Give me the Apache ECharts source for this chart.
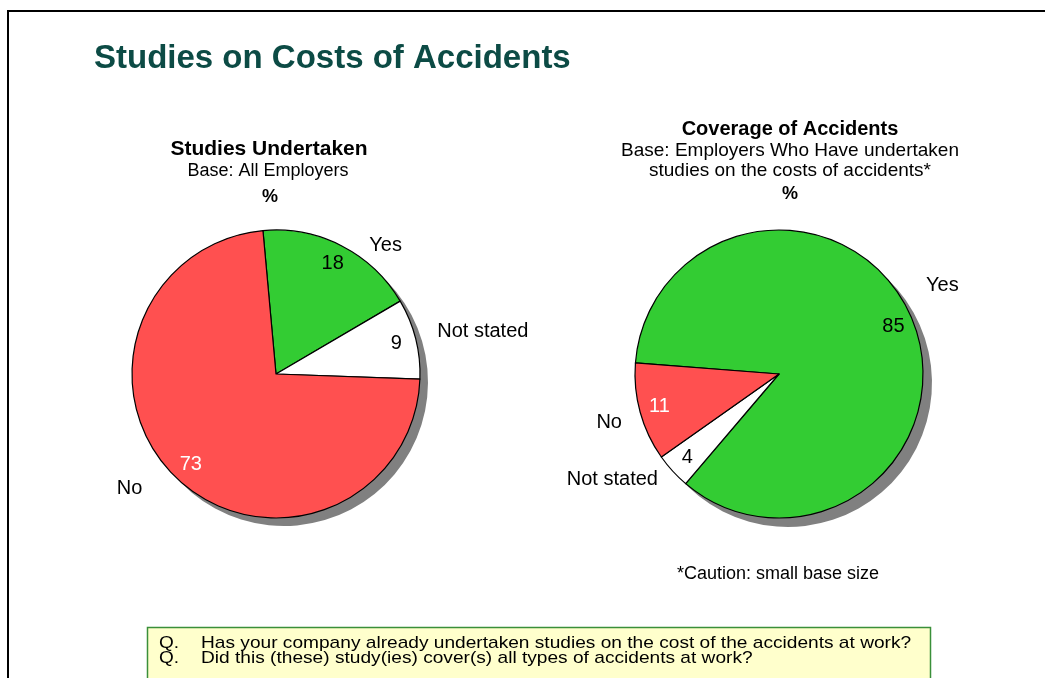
<!DOCTYPE html>
<html>
<head>
<meta charset="utf-8">
<title>Studies on Costs of Accidents</title>
<script src="https://cdn.jsdelivr.net/npm/echarts@6/dist/echarts.min.js"></script>
<style>
  html, body { margin: 0; padding: 0; background: #ffffff; }
  #chart { width: 1045px; height: 678px; }
</style>
</head>
<body>
<div id="chart"></div>
<script>
// Survey answers, in percent
const studyNames = ['Yes', 'Not stated', 'No'];
const studyValues = [18, 9, 73];

const coverageNames = ['Yes', 'Not stated', 'No'];
const coverageValues = [85, 4, 11];

const questions = [
  'Has your company already undertaken studies on the cost of the accidents at work?',
  'Did this (these) study(ies) cover(s) all types of accidents at work?'
];

const FONT = '"Liberation Sans", Arial, Helvetica, sans-serif';
const sliceColors = { 'Yes': '#33cc33', 'Not stated': '#ffffff', 'No': '#ff5050' };
const valueColors = { 'Yes': '#000000', 'Not stated': '#000000', 'No': '#ffffff' };

// label leader lengths (hidden lines) used to place the category names
const leftLeader = { 'Yes': [1, 22], 'Not stated': [28, -10.5], 'No': [13.5, 20.4] };
const rightLeader = { 'Yes': [86.5, -70.7], 'Not stated': [12.5, 0.5], 'No': [38.3, -23.7] };

const R = 144;

function sum(arr) { return arr.reduce((a, b) => a + b, 0); }

function pieSeries(names, values, center, startAngle, leader, shadowOffset) {
  const shadow = {
    type: 'pie',
    silent: true,
    z: 1,
    center: [center[0] + shadowOffset[0], center[1] + shadowOffset[1]],
    radius: R,
    startAngle: startAngle,
    label: { show: false },
    labelLine: { show: false },
    itemStyle: { color: '#808080', borderWidth: 0 },
    data: [{ name: 'shadow', value: sum(values) }]
  };
  const main = {
    type: 'pie',
    silent: true,
    z: 2,
    center: center,
    radius: R,
    startAngle: startAngle,
    clockwise: true,
    avoidLabelOverlap: false,
    itemStyle: { borderColor: '#000000', borderWidth: 1.2 },
    label: {
      show: true,
      position: 'outside',
      formatter: '{b}',
      color: '#000000',
      fontSize: 20,
      fontFamily: FONT
    },
    labelLine: { show: false },
    data: names.map((n, i) => ({
      name: n,
      value: values[i],
      itemStyle: { color: sliceColors[n] },
      labelLine: { show: false, length: leader[n][0], length2: leader[n][1] }
    }))
  };
  const valueRing = {
    type: 'pie',
    silent: true,
    z: 3,
    center: center,
    radius: [R - 46, R],
    startAngle: startAngle,
    clockwise: true,
    avoidLabelOverlap: false,
    itemStyle: { color: 'rgba(0,0,0,0)', borderWidth: 0 },
    label: {
      show: true,
      position: 'inside',
      formatter: '{c}',
      fontSize: 20,
      fontFamily: FONT
    },
    labelLine: { show: false },
    data: names.map((n, i) => ({
      name: n,
      value: values[i],
      label: { color: valueColors[n] }
    }))
  };
  return [shadow, main, valueRing];
}

function txt(x, y, text, font, opts, scaleX) {
  return {
    type: 'text',
    x: x,
    y: y,
    scaleX: scaleX || 1,
    silent: true,
    z: 10,
    style: Object.assign({
      text: text,
      font: font,
      fill: '#000000',
      align: 'center',
      verticalAlign: 'middle'
    }, opts || {})
  };
}

const chart = echarts.init(document.getElementById('chart'), null, { renderer: 'canvas' });

const option = {
  animation: false,
  backgroundColor: '#ffffff',
  graphic: [
    // slide frame
    {
      type: 'rect', silent: true, z: 0,
      shape: { x: 8, y: 11, width: 1200, height: 900 },
      style: { fill: 'none', stroke: '#000000', lineWidth: 2 }
    },
    // question box
    {
      type: 'rect', silent: true, z: 5,
      shape: { x: 147.5, y: 627.5, width: 783, height: 120 },
      style: { fill: '#ffffcc', stroke: '#3a8f3a', lineWidth: 1.5 }
    },
    txt(94, 58.5, 'Studies on Costs of Accidents', 'bold 33px ' + FONT, { fill: '#0c4b45', align: 'left' }),

    txt(269, 149.7, 'Studies Undertaken', 'bold 21px ' + FONT),
    txt(268, 171, 'Base: All Employers', '18px ' + FONT),
    txt(270, 196.7, '%', 'bold 18px ' + FONT),

    txt(790, 129.2, 'Coverage of Accidents', 'bold 20px ' + FONT,
      { textShadowColor: 'rgba(0,0,0,0.55)', textShadowOffsetX: 1, textShadowOffsetY: 1, textShadowBlur: 0 }),
    txt(790, 150.3, 'Base: Employers Who Have undertaken', '19px ' + FONT),
    txt(790, 170.5, 'studies on the costs of accidents*', '19px ' + FONT),
    txt(790, 194.2, '%', 'bold 18px ' + FONT),

    txt(778, 574, '*Caution: small base size', '18px ' + FONT),

    txt(159, 643, 'Q.', '17px ' + FONT, { align: 'left' }, 1.12),
    txt(201, 643, questions[0], '17px ' + FONT, { align: 'left' }, 1.125),
    txt(159, 658, 'Q.', '17px ' + FONT, { align: 'left' }, 1.12),
    txt(201, 658, questions[1], '17px ' + FONT, { align: 'left' }, 1.125)
  ],
  series: [].concat(
    pieSeries(studyNames, studyValues, [276, 374], 95.2, leftLeader, [8, 8]),
    pieSeries(coverageNames, coverageValues, [779, 374], 175.6, rightLeader, [9, 9])
  )
};

chart.setOption(option);
</script>
</body>
</html>
